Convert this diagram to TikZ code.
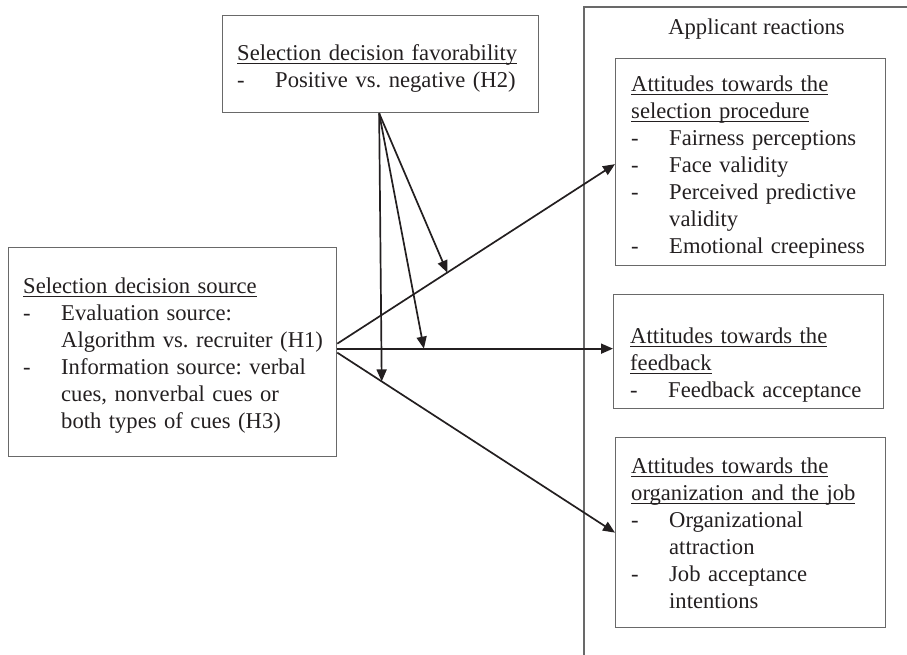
\documentclass[tikz,border=0pt]{standalone}
\usepackage{fontspec}
\setmainfont{Liberation Serif}
\usetikzlibrary{arrows.meta,calc}
\definecolor{boxgray}{RGB}{105,105,105}
\definecolor{ink}{RGB}{35,31,32}
\frenchspacing
\newcommand{\hdl}[1]{\setbox0\hbox{#1}\leavevmode\vrule height 18pt depth 0pt width 0pt\rlap{\rule[-4.2pt]{\wd0}{1.5pt}}\box0}
\newcommand{\itm}[1]{\par\noindent\hangindent=38pt\hangafter=1\makebox[38pt][l]{-}#1\par}
\tikzset{
  box/.style={draw=boxgray, line width=1.3pt, inner sep=0pt, anchor=north west},
  txt/.style={inner sep=0pt, anchor=north west, text width=#1, text=ink,
              font=\fontsize{22.6}{27}\selectfont\frenchspacing},
  frame/.style={draw=boxgray, line width=1.3pt},
  arr/.style={draw=ink, line width=1.7pt, -{Triangle[length=12pt,width=10pt]}}
}
\begin{document}
\begin{tikzpicture}[x=1pt,y=-1pt]
\useasboundingbox (0,0) rectangle (907,655);
% frame of applicant reactions
\coordinate (frTR) at (907,7);
\coordinate (frTL) at (584,7);
\coordinate (frB) at (584,655);
\draw[frame] (frTR) -- (frTL) -- (frB);
\node[anchor=base, inner sep=0pt, text=ink, font=\fontsize{22.6}{27}\selectfont] (app) at (756.5,35) {Applicant reactions};
% boxes
\node[box, minimum width=316pt, minimum height=97pt] (fav) at (222,15) {};
\node[box, minimum width=328pt, minimum height=209pt] (src) at (8,247) {};
\node[box, minimum width=270pt, minimum height=207pt] (proc) at (615,58) {};
\node[box, minimum width=270pt, minimum height=114pt] (fb) at (613,294) {};
\node[box, minimum width=270pt, minimum height=190pt] (org) at (615,437) {};
% texts
\node[txt=300pt] (favT) at (237,42) {\noindent\hdl{Selection decision favorability}
\itm{Positive vs. negative (H2)}};
\node[txt=325pt] (srcT) at (23,275) {\noindent\hdl{Selection decision source}
\itm{Evaluation source:\newline Algorithm vs. recruiter (H1)}
\itm{Information source: verbal\newline cues, nonverbal cues or\newline both types of cues (H3)}};
\node[txt=265pt] (procT) at (631,73) {\noindent\hdl{Attitudes towards the}\newline\hdl{selection procedure}
\itm{Fairness perceptions}
\itm{Face validity}
\itm{Perceived predictive\newline validity}
\itm{Emotional creepiness}};
\node[txt=265pt] (fbT) at (630,325) {\noindent\hdl{Attitudes towards the}\newline\hdl{feedback}
\itm{Feedback acceptance}};
\node[txt=265pt] (orgT) at (631,455) {\noindent\hdl{Attitudes towards the}\newline\hdl{organization and the job}
\itm{Organizational\newline attraction}
\itm{Job acceptance\newline intentions}};
% connectors
\coordinate (s1) at ([yshift=8.5pt]src.east);
\coordinate (s2) at ([yshift=3.5pt]src.east);
\coordinate (s3) at ([yshift=-0.5pt]src.east);
\coordinate (e1) at ([yshift=-2pt]proc.west);
\coordinate (e2) at ([yshift=3pt]fb.west);
\coordinate (e3) at (org.west);
\draw[arr] (s1) -- (e1);
\draw[arr] (s2) -- (e2);
\draw[arr] (s3) -- (e3);
\coordinate (m0) at ([xshift=-1.5pt]fav.south);
\draw[arr] (m0) -- ($(s3)!0.16!(e3)$);
\draw[arr] (m0) -- ($(s2)!0.314!(e2)$);
\draw[arr] (m0) -- ($(s1)!0.396!(e1)$);
\end{tikzpicture}
\end{document}
